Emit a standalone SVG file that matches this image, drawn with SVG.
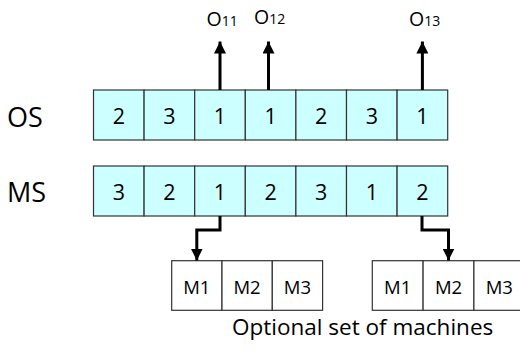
<svg xmlns="http://www.w3.org/2000/svg" width="520" height="355" viewBox="0 0 520 355">
  <defs>
    <style>
      .cell { fill: #ccffff; stroke: #333; stroke-width: 1.2; }
      .mcell { fill: #ffffff; stroke: #333; stroke-width: 1.2; }
      .lbl { font-family: "Open Sans", "Liberation Sans", sans-serif; fill: #000; }
      .row { font-size: 27px; }
      .num { font-size: 21.5px; text-anchor: middle; }
      .mac { font-size: 18.5px; text-anchor: middle; }
      .op { font-size: 19.5px; }
      .sub { font-size: 14px; }
      .cap { font-size: 22.5px; }
      .wire { fill: none; stroke: #000; stroke-width: 3; }
    </style>
    <marker id="head" viewBox="0 0 12 12" refX="12" refY="6" markerWidth="12" markerHeight="12" markerUnits="userSpaceOnUse" orient="auto">
      <path d="M0,0 L12,6 L0,12 Z" fill="#000"/>
    </marker>
  </defs>

  <rect width="520" height="355" fill="#fff"/>

  <!-- row labels -->
  <text class="lbl row" x="7" y="127">OS</text>
  <text class="lbl row" x="7" y="202">MS</text>

  <!-- operation sequence -->
  <g id="os">
    <rect class="cell" x="93.5" y="90" width="50.6" height="50"/>
    <rect class="cell" x="144.1" y="90" width="50.6" height="50"/>
    <rect class="cell" x="194.7" y="90" width="50.6" height="50"/>
    <rect class="cell" x="245.3" y="90" width="50.6" height="50"/>
    <rect class="cell" x="295.9" y="90" width="50.6" height="50"/>
    <rect class="cell" x="346.5" y="90" width="50.6" height="50"/>
    <rect class="cell" x="397.1" y="90" width="50.6" height="50"/>
    <text class="lbl num" x="118.8" y="124">2</text>
    <text class="lbl num" x="169.4" y="124">3</text>
    <text class="lbl num" x="220" y="124">1</text>
    <text class="lbl num" x="270.6" y="124">1</text>
    <text class="lbl num" x="321.2" y="124">2</text>
    <text class="lbl num" x="371.8" y="124">3</text>
    <text class="lbl num" x="422.4" y="124">1</text>
  </g>

  <!-- machine sequence -->
  <g id="ms">
    <rect class="cell" x="93.5" y="166" width="50.6" height="50"/>
    <rect class="cell" x="144.1" y="166" width="50.6" height="50"/>
    <rect class="cell" x="194.7" y="166" width="50.6" height="50"/>
    <rect class="cell" x="245.3" y="166" width="50.6" height="50"/>
    <rect class="cell" x="295.9" y="166" width="50.6" height="50"/>
    <rect class="cell" x="346.5" y="166" width="50.6" height="50"/>
    <rect class="cell" x="397.1" y="166" width="50.6" height="50"/>
    <text class="lbl num" x="118.8" y="200">3</text>
    <text class="lbl num" x="169.4" y="200">2</text>
    <text class="lbl num" x="220" y="200">1</text>
    <text class="lbl num" x="270.6" y="200">2</text>
    <text class="lbl num" x="321.2" y="200">3</text>
    <text class="lbl num" x="371.8" y="200">1</text>
    <text class="lbl num" x="422.4" y="200">2</text>
  </g>

  <!-- operation labels -->
  <g id="o11"><text class="lbl op" x="206.5" y="25.5">O<tspan class="sub">11</tspan></text></g>
  <g id="o12"><text class="lbl op" x="254" y="23.5">O<tspan class="sub">12</tspan></text></g>
  <g id="o13"><text class="lbl op" x="409" y="25.5">O<tspan class="sub">13</tspan></text></g>

  <!-- machine option sets -->
  <g id="set1">
    <rect class="mcell" x="171.7" y="260.7" width="50.3" height="49.6"/>
    <rect class="mcell" x="222" y="260.7" width="50.3" height="49.6"/>
    <rect class="mcell" x="272.3" y="260.7" width="50.3" height="49.6"/>
    <text class="lbl mac" x="196.8" y="294">M1</text>
    <text class="lbl mac" x="247.1" y="294">M2</text>
    <text class="lbl mac" x="297.4" y="294">M3</text>
  </g>
  <g id="set2">
    <rect class="mcell" x="372.3" y="260.7" width="50.8" height="49.6"/>
    <rect class="mcell" x="423.1" y="260.7" width="50.8" height="49.6"/>
    <rect class="mcell" x="473.9" y="260.7" width="50.8" height="49.6"/>
    <text class="lbl mac" x="397.7" y="294">M1</text>
    <text class="lbl mac" x="448.5" y="294">M2</text>
    <text class="lbl mac" x="499.3" y="294">M3</text>
  </g>

  <text class="lbl cap" x="232" y="335">Optional set of machines</text>

  <!-- connectors -->
  <g id="connectors">
    <line class="wire" x1="220" y1="90" x2="220" y2="41.5" marker-end="url(#head)"/>
    <line class="wire" x1="268.5" y1="90" x2="268.5" y2="41.5" marker-end="url(#head)"/>
    <line class="wire" x1="422.4" y1="90" x2="422.4" y2="41.5" marker-end="url(#head)"/>
    <polyline class="wire" points="220,216 220,230 196.8,230 196.8,260.5" marker-end="url(#head)"/>
    <polyline class="wire" points="422,216 422,230 448.5,230 448.5,260.5" marker-end="url(#head)"/>
  </g>
</svg>
